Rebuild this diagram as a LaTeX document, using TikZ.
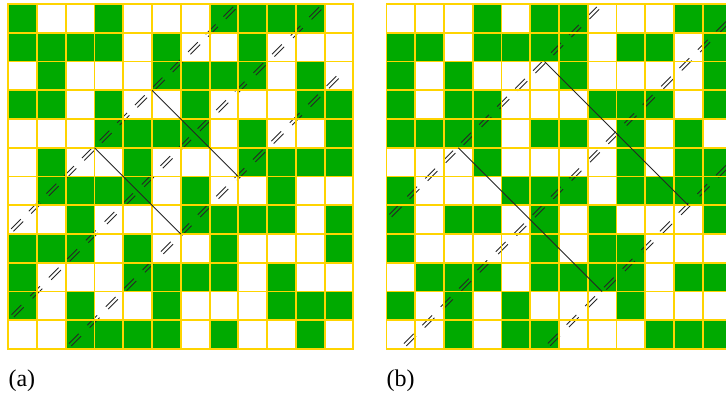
\documentclass[tikz,border=0pt]{standalone}
\usepackage{fontspec}
\setmainfont{Liberation Serif}
\usepackage{tikz}
\usepackage{xcolor}
\usetikzlibrary{calc}

\definecolor{cellgreen}{RGB}{0,170,0}
\definecolor{gridgold}{RGB}{255,212,0}
\tikzset{
  greencell/.style={fill=cellgreen},
  gridline/.style={draw=gridgold, line width=1.45pt, line cap=rect},
  eqstroke/.style={draw=black!85, line width=0.7pt},
  edgeline/.style={draw=black!85, line width=0.7pt},
  caption/.style={font=\fontsize{19}{22}\selectfont, anchor=base west, inner sep=0pt}
}

% rows of cells, 1 = green
\newcommand{\greencells}[1]{%
  \foreach [count=\r] \rowbits in {#1} {
    \foreach [count=\c] \val in \rowbits {
      \ifnum\val=1 \fill[greencell] (\c-1,\r-1) rectangle (\c,\r); \fi
    }
  }}
% double dashes along the diagonal u+v=#1, from u=#2, length #3, #4 dashes
\newcommand{\diagmarks}[4]{%
  \foreach \k in {1,...,#4} {
    \pgfmathsetmacro{\uu}{#2+(\k-0.5)*#3/#4}
    \pgfmathsetmacro{\vv}{#1-\uu}
    \draw[eqstroke] (\uu-0.13,\vv+0.21) -- (\uu+0.21,\vv-0.13);
    \draw[eqstroke] (\uu-0.21,\vv+0.13) -- (\uu+0.13,\vv-0.21);
  }}
\newcommand{\gridlines}{%
  \foreach \i in {0,...,12} {
    \draw[gridline] (\i,0) -- (\i,12);
    \draw[gridline] (0,\i) -- (12,\i);
  }}

\begin{document}
\begin{tikzpicture}[x=0.8cm, y=-0.8cm]
  \useasboundingbox (-0.289,-0.139) rectangle (24.96,13.53);
  \clip (-0.289,-0.139) rectangle (24.96,13.53);

  % (a)
  \greencells{{1,0,0,1,0,0,0,1,1,1,1,0},
              {1,1,1,1,0,1,0,0,1,0,0,0},
              {0,1,0,0,0,1,1,1,1,0,1,0},
              {1,1,0,1,0,0,1,0,0,0,1,1},
              {0,0,0,1,1,1,1,0,1,0,0,1},
              {0,1,0,0,1,0,0,0,1,1,1,1},
              {0,1,1,1,1,0,1,0,0,1,0,0},
              {0,0,1,0,0,0,1,1,1,1,0,1},
              {1,1,1,0,1,0,0,1,0,0,0,1},
              {1,0,0,0,1,1,1,1,0,1,0,0},
              {1,0,1,0,0,1,0,0,0,1,1,1},
              {0,0,1,1,1,1,0,1,0,0,1,0}}
  \diagmarks{8}{0}{8}{13}
  \diagmarks{11}{0}{11}{17}
  \diagmarks{14}{2}{9.6}{15}
  \gridlines
  \coordinate (a-top) at (5,3);
  \coordinate (a-right) at (8,6);
  \coordinate (a-left) at (3,5);
  \coordinate (a-bottom) at (6,8);
  \draw[edgeline] (a-top) -- (a-right);
  \draw[edgeline] (a-left) -- (a-bottom);
  \node[caption] (cap-a) at (0,13.3) {(a)};

  % (b)
  \begin{scope}[shift={(13.15,0)}]
    \greencells{{0,0,0,1,0,1,1,0,0,0,1,1},
                {1,1,0,1,1,1,1,0,1,1,0,1},
                {1,0,1,0,0,0,1,0,0,0,0,1},
                {1,0,1,1,0,0,0,1,1,1,0,1},
                {1,1,1,1,0,1,1,0,1,0,1,0},
                {0,0,0,1,0,0,0,0,1,0,1,1},
                {1,0,0,0,1,1,1,0,1,1,1,1},
                {1,0,1,1,0,1,0,1,0,0,0,1},
                {1,0,0,0,0,1,0,1,1,0,0,0},
                {0,1,1,1,0,1,1,1,1,0,1,1},
                {1,0,1,0,1,0,0,0,1,0,0,0},
                {0,0,1,0,1,1,0,0,0,1,1,1}}
    \diagmarks{7.5}{0}{7.5}{12}
    \diagmarks{12.5}{0.5}{11.5}{18}
    \diagmarks{17.5}{5.5}{6.5}{10}
    \gridlines
    \coordinate (b-top) at (5.5,2);
    \coordinate (b-right) at (10.5,7);
    \coordinate (b-left) at (2.5,5);
    \coordinate (b-bottom) at (7.5,10);
    \draw[edgeline] (b-top) -- (b-right);
    \draw[edgeline] (b-left) -- (b-bottom);
    \node[caption] (cap-b) at (0,13.3) {(b)};
  \end{scope}
\end{tikzpicture}
\end{document}
